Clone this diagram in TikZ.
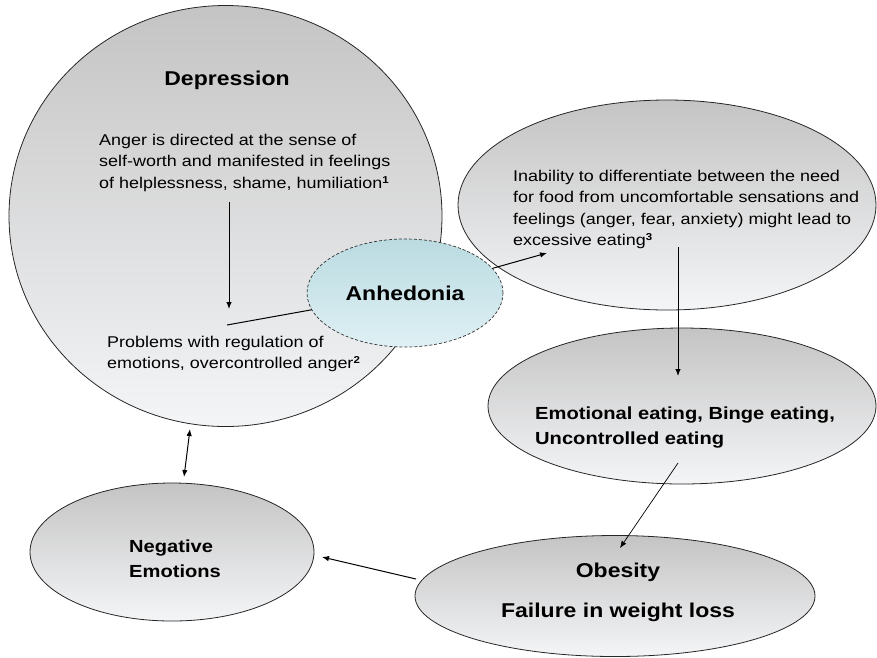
\documentclass[tikz,border=0pt]{standalone}
\usepackage{fontspec}
\setmainfont{Liberation Sans}[FakeStretch=1.15]
\usepackage{tikz}
\usetikzlibrary{shapes.geometric,arrows.meta,positioning}
\usepackage{xcolor}

\definecolor{bubtop}{RGB}{196,196,196}
\definecolor{bubbot}{RGB}{244,245,247}
\definecolor{anhtop}{RGB}{186,219,225}
\definecolor{anhbot}{RGB}{223,240,244}

\newcommand{\refmark}[1]{\raisebox{0.62ex}{\bfseries\fontsize{10}{10}\selectfont #1}}

\tikzset{
    bubble/.style={ellipse, draw=black!85, line width=0.8pt, inner sep=0pt,
        top color=bubtop, bottom color=bubbot},
    body/.style={align=left, inner sep=0pt, anchor=north west,
        font=\fontsize{15.6}{21.3}\selectfont},
    heavy/.style={align=left, inner sep=0pt, anchor=north west,
        font=\bfseries\fontsize{17.5}{24.5}\selectfont},
    arr/.style={-{Latex[length=7pt,width=5.5pt]}, line width=1pt},
}

\begin{document}
\begin{tikzpicture}[x=1pt,y=-1pt]
    \useasboundingbox (0,0) rectangle (877,657);

    % Bubbles
    \node[bubble, minimum width=433pt, minimum height=421pt] (dep) at (225.5,216) {};
    \node[bubble, minimum width=418pt, minimum height=210pt] (inab) at (667,205) {};
    \node[bubble, minimum width=388pt, minimum height=156pt] (emo) at (682,406) {};
    \node[bubble, minimum width=284pt, minimum height=138pt] (neg) at (172,552) {};
    \node[bubble, minimum width=400pt, minimum height=121pt] (obe) at (615,596) {};
    \node[ellipse, draw=black!80, dash pattern=on 3pt off 2pt, line width=0.7pt, inner sep=0pt,
        top color=anhtop, bottom color=anhbot,
        minimum width=196pt, minimum height=108pt,
        font=\bfseries\fontsize{20}{24}\selectfont] (anh) at (405,293) {Anhedonia};

    % Texts
    \node[anchor=base, font=\bfseries\fontsize{20}{24}\selectfont] (deptitle) at (227,85) {Depression};
    \node[body] (anger) at (99,134) {Anger is directed at the sense of\\
        self-worth and manifested in feelings\\
        of helplessness, shame, humiliation\refmark{1}};
    \node[body] (regul) at (107,336) {Problems with regulation of\\
        emotions, overcontrolled anger\refmark{2}};
    \node[body] (inabtxt) at (513,170) {Inability to differentiate between the need\\
        for food from uncomfortable sensations and\\
        feelings (anger, fear, anxiety) might lead to\\
        excessive eating\refmark{3}};
    \node[heavy] (emotxt) at (535,407) {Emotional eating, Binge eating,\\Uncontrolled eating};
    \node[heavy] (negtxt) at (129,540) {Negative\\Emotions};
    \node[align=center, inner sep=0pt, anchor=north,
        font=\bfseries\fontsize{20}{40}\selectfont] (obetxt) at (618,562.5)
        {Obesity\\Failure in weight loss};

    % Connector ends
    \coordinate (angerend) at (229,202);
    \coordinate (regulend) at (229,309);
    \coordinate (regulfrom) at (227,325);
    \coordinate (inabin) at (547,253);
    \coordinate (inabout) at (678,247);
    \coordinate (emoin) at (678,376);
    \coordinate (emoout) at (678,463);
    \coordinate (obein) at (620,548);
    \coordinate (obeout) at (416,579);
    \coordinate (negin) at (322,557);
    \coordinate (deplow) at (190,429);
    \coordinate (negtop) at (184,477);

    % Connectors
    \draw[arr] (angerend) -- (regulend);
    \draw[line width=1pt] (regulfrom) -- (anh);
    \draw[arr] (anh) -- (inabin);
    \draw[arr] (inabout) -- (emoin);
    \draw[arr, line width=0.7pt] (emoout) -- (obein);
    \draw[arr] (obeout) -- (negin);
    \draw[{Latex[length=7pt,width=5.5pt]}-{Latex[length=7pt,width=5.5pt]}, line width=1pt] (deplow) -- (negtop);
\end{tikzpicture}
\end{document}
